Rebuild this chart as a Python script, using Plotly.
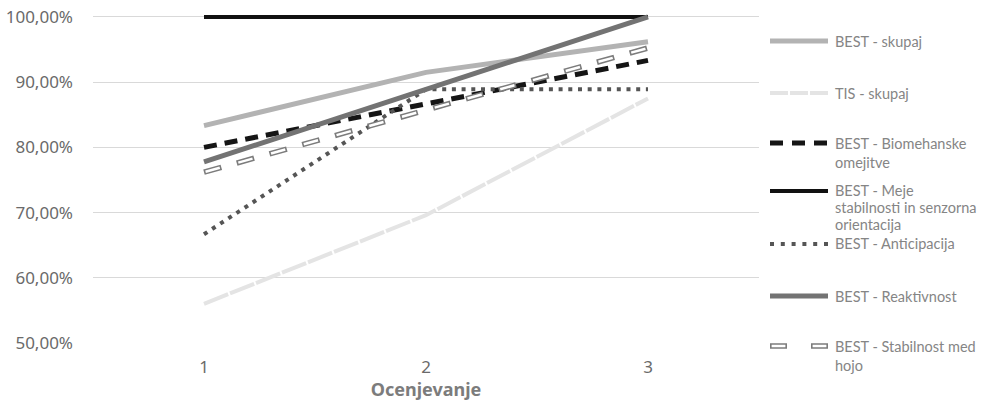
import plotly.graph_objects as go

# Assessment rounds on the x axis
categories = [1, 2, 3]

# Share of successful results per assessment round (fractions of 1)
best_skupaj = [0.8333, 0.9150, 0.9620]
tis_skupaj = [0.5600, 0.6960, 0.8750]
best_biomehanske = [0.8000, 0.8667, 0.9333]
best_meje = [1.0000, 1.0000, 1.0000]
best_anticipacija = [0.6667, 0.8889, 0.8889]
best_reaktivnost = [0.7778, 0.8889, 1.0000]
best_stabilnost_hoja = [0.7619, 0.8571, 0.9524]

series_names = [
    "BEST - skupaj",
    "TIS - skupaj",
    "BEST - Biomehanske<br>omejitve",
    "BEST - Meje<br>stabilnosti in senzorna<br>orientacija",
    "BEST - Anticipacija",
    "BEST - Reaktivnost",
    "BEST - Stabilnost med<br>hojo",
]
series_values = [
    best_skupaj,
    tis_skupaj,
    best_biomehanske,
    best_meje,
    best_anticipacija,
    best_reaktivnost,
    best_stabilnost_hoja,
]

x_title = "Ocenjevanje"

# Line styles: (colour, width, dash, legend dash, hollow)
styles = [
    ("#b3b3b3", 5, "solid", "solid", False),
    ("#e4e4e4", 4, "26px,2px", "18px,2px", False),
    ("#151515", 5, "13px,8px", "13px,9px", False),
    ("#111111", 4, "solid", "solid", False),
    ("#555555", 4, "4px,5.7px", "4px,6.8px", False),
    ("#737373", 5, "solid", "solid", False),
    ("#7c7c7c", 5.5, "18px,16px", "17px,24px", True),
]

# Page geometry (pixels)
W, H = 986, 401
L, R, T, B = 93, 227, 13, 58
PW, PH = W - L - R, H - T - B


def px_x(p):
    return (p - L) / PW


def px_y(p):
    return (H - B - p) / PH


fig = go.Figure()

for name, vals, (col, lw, dash, _, hollow) in zip(series_names, series_values, styles):
    fig.add_trace(go.Scatter(
        x=categories, y=vals, mode="lines", name=name.replace("<br>", " "),
        line=dict(color=col, width=lw, dash=dash), showlegend=False,
        hoverinfo="skip",
    ))
    if hollow:
        # white core inside the outlined dashes
        a, b = [float(v.replace("px", "")) for v in dash.split(",")]
        inner = f"0px,1.6px,{a - 3.2}px,{b + 1.6}px"
        fig.add_trace(go.Scatter(
            x=categories, y=vals, mode="lines", showlegend=False,
            line=dict(color="white", width=lw - 3, dash=inner), hoverinfo="skip",
        ))

# Legend on the right, one entry every ~51 px; wrapped names get one text per line
legend_y = [41, 93, 143, 191, 244, 296, 346]
line_gap = [19, 19, 19, 17, 19, 19, 19]
sx0, sx1, tx = 770, 828, 834
shapes = []
annotations = []
for name, (col, lw, _, ldash, hollow), py, gap in zip(series_names, styles, legend_y, line_gap):
    shapes.append(dict(
        type="line", xref="paper", yref="paper",
        x0=px_x(sx0), x1=px_x(sx1), y0=px_y(py), y1=px_y(py),
        line=dict(color=col, width=lw, dash=ldash),
    ))
    if hollow:
        a, b = [float(v.replace("px", "")) for v in ldash.split(",")]
        shapes.append(dict(
            type="line", xref="paper", yref="paper",
            x0=px_x(sx0), x1=px_x(sx1), y0=px_y(py), y1=px_y(py),
            line=dict(color="white", width=lw - 3,
                      dash=f"0px,1.6px,{a - 3.2}px,{b + 1.6}px"),
        ))
    for i, part in enumerate(name.split("<br>")):
        annotations.append(dict(
            xref="paper", yref="paper", x=px_x(tx), y=px_y(py + i * gap),
            xanchor="left", yanchor="middle", align="left", showarrow=False,
            borderpad=0,
            text=part, font=dict(family="Lato", size=14.5, color="#858585"),
        ))

fig.update_layout(
    width=W, height=H,
    margin=dict(l=L, r=R, t=T, b=B, pad=0, autoexpand=False),
    paper_bgcolor="white", plot_bgcolor="white",
    separators=", ",
    showlegend=False,
    shapes=shapes, annotations=annotations,
    font=dict(family="Noto Sans", color="#6a6a6a"),
)

fig.update_xaxes(
    range=[0.5, 3.5], tickvals=categories, ticktext=[str(c) for c in categories],
    showgrid=False, zeroline=False, showline=False, ticks="", automargin=False,
    tickfont=dict(family="Noto Sans", size=17, color="#6a6a6a"),
    ticklabelstandoff=12,
    title=dict(text=f"<b>{x_title}</b>", standoff=0,
               font=dict(family="Noto Sans", size=18, color="#7c7c7c")),
)
fig.update_yaxes(
    range=[0.5, 1.006], tickvals=[0.5, 0.6, 0.7, 0.8, 0.9, 1.0], tickformat=".2%",
    showgrid=True, gridcolor="#d9d9d9", gridwidth=1.2,
    zeroline=False, showline=False, ticks="", automargin=False,
    tickfont=dict(family="Noto Sans", size=17, color="#6a6a6a"),
    ticklabelstandoff=19,
)

fig.write_html("out.html")
